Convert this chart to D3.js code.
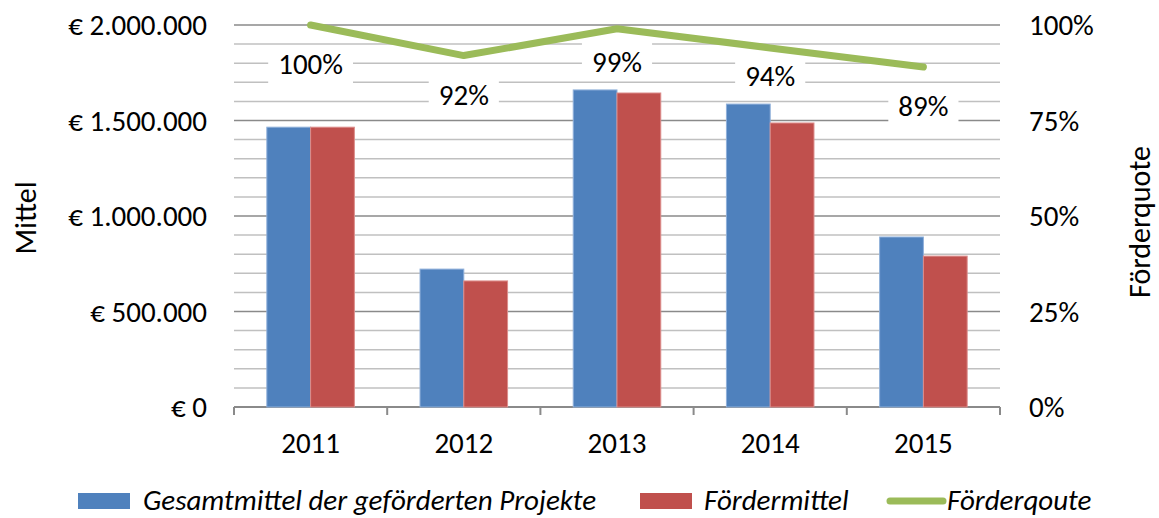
<!DOCTYPE html>
<html>
<head>
<meta charset="utf-8">
<script src="https://cdn.jsdelivr.net/npm/d3@7"></script>
<style>
  body { margin: 0; background: #fff; }
  svg text { font-family: Carlito, "Open Sans", sans-serif; fill: #000; }
</style>
</head>
<body>
<div id="chart"></div>
<script>
// data
var years = ["2011", "2012", "2013", "2014", "2015"];
var gesamtmittel = [1465000, 722000, 1660000, 1586000, 890000];
var foerdermittel = [1465000, 660000, 1644000, 1487000, 790000];
var foerderquote = [1.00, 0.92, 0.99, 0.94, 0.89];
var leftTicks = [0, 500000, 1000000, 1500000, 2000000];
var rightTicks = [0, 0.25, 0.5, 0.75, 1];
var seriesNames = ["Gesamtmittel der geförderten Projekte", "Fördermittel", "Förderqoute"];

var w = 1159, h = 518;
var mLeft = 234, mRight = 1000, mTop = 25, mBottom = 407;
var blue = "#4F81BD", red = "#C0504D", green = "#9BBB59";
var fs = "29px";

var svg = d3.select("#chart")
    .append("svg")
    .attr("width", w)
    .attr("height", h);

var x = d3.scaleBand().domain(years).range([mLeft, mRight]);
var barW = x.bandwidth() / 3.5;
var y = d3.scaleLinear().domain([0, 2000000]).range([mBottom, mTop]);
var yPct = d3.scaleLinear().domain([0, 1]).range([mBottom, mTop]);

// gridlines (minor every 100.000, major every 500.000)
var grid = d3.range(100000, 2000001, 100000);
svg.selectAll("line.grid")
    .data(grid)
    .enter()
    .append("line")
    .attr("class", "grid")
    .attr("x1", mLeft)
    .attr("x2", mRight)
    .attr("y1", function(d) { return y(d); })
    .attr("y2", function(d) { return y(d); })
    .attr("stroke", function(d) { return d % 500000 === 0 ? "#8a8a8a" : "#c0c0c0"; })
    .attr("stroke-width", 1.5);

// x axis
svg.append("line")
    .attr("x1", mLeft).attr("x2", mRight)
    .attr("y1", mBottom).attr("y2", mBottom)
    .attr("stroke", "#8a8a8a").attr("stroke-width", 2);

var bounds = years.map(function(d) { return x(d); }).concat([mRight]);
svg.selectAll("line.xtick")
    .data(bounds)
    .enter()
    .append("line")
    .attr("class", "xtick")
    .attr("x1", function(d) { return d; })
    .attr("x2", function(d) { return d; })
    .attr("y1", mBottom)
    .attr("y2", mBottom + 8)
    .attr("stroke", "#8a8a8a").attr("stroke-width", 2);

svg.selectAll("text.xlab")
    .data(years)
    .enter()
    .append("text")
    .attr("class", "xlab")
    .attr("x", function(d) { return x(d) + x.bandwidth() / 2; })
    .attr("y", 453)
    .attr("text-anchor", "middle")
    .attr("font-size", fs)
    .text(function(d) { return d; });

// left axis labels
var euro = function(d) {
    return "€ " + d3.format(",")(d).replace(/,/g, ".");
};
svg.selectAll("text.ylab")
    .data(leftTicks)
    .enter()
    .append("text")
    .attr("class", "ylab")
    .attr("x", 207)
    .attr("y", function(d) { return y(d); })
    .attr("dy", "0.35em")
    .attr("text-anchor", "end")
    .attr("font-size", fs)
    .text(euro);

// right axis labels
svg.selectAll("text.rlab")
    .data(rightTicks)
    .enter()
    .append("text")
    .attr("class", "rlab")
    .attr("x", 1029)
    .attr("y", function(d) { return yPct(d); })
    .attr("dy", "0.35em")
    .attr("font-size", fs)
    .text(function(d) { return Math.round(d * 100) + "%"; });

// axis titles
svg.append("text")
    .attr("transform", "translate(36,218) rotate(-90)")
    .attr("text-anchor", "middle")
    .attr("font-size", "30px")
    .text("Mittel");

svg.append("text")
    .attr("transform", "translate(1150,222) rotate(-90)")
    .attr("text-anchor", "middle")
    .attr("font-size", "30px")
    .text("Förderquote");

// bars
var center = function(i) { return x(years[i]) + x.bandwidth() / 2; };

svg.selectAll("rect.ges")
    .data(gesamtmittel)
    .enter()
    .append("rect")
    .attr("class", "ges")
    .attr("x", function(d, i) { return center(i) - barW; })
    .attr("y", function(d) { return y(d); })
    .attr("width", barW)
    .attr("height", function(d) { return mBottom - y(d); })
    .attr("fill", blue)
    .attr("stroke", "#8fb0da")
    .attr("stroke-width", 1);

svg.selectAll("rect.foe")
    .data(foerdermittel)
    .enter()
    .append("rect")
    .attr("class", "foe")
    .attr("x", function(d, i) { return center(i); })
    .attr("y", function(d) { return y(d); })
    .attr("width", barW)
    .attr("height", function(d) { return mBottom - y(d); })
    .attr("fill", red)
    .attr("stroke", "#dc8d8b")
    .attr("stroke-width", 1);

// line
var line = d3.line()
    .x(function(d, i) { return center(i); })
    .y(function(d) { return yPct(d); });

svg.append("path")
    .datum(foerderquote)
    .attr("d", line)
    .attr("fill", "none")
    .attr("stroke", green)
    .attr("stroke-width", 7)
    .attr("stroke-linecap", "round")
    .attr("stroke-linejoin", "round");

// data labels below the points, kept clear of the bars
var labels = svg.selectAll("g.lab")
    .data(foerderquote)
    .enter()
    .append("g")
    .attr("class", "lab")
    .attr("transform", function(d, i) {
        var barTop = y(Math.max(gesamtmittel[i], foerdermittel[i]));
        var ly = Math.min(yPct(d) + 39, barTop - 28);
        return "translate(" + center(i) + "," + ly + ")";
    });

labels.append("rect")
    .attr("fill", "#fff");

labels.append("text")
    .attr("text-anchor", "middle")
    .attr("dy", "0.35em")
    .attr("font-size", fs)
    .text(function(d) { return Math.round(d * 100) + "%"; });

labels.each(function() {
    var g = d3.select(this);
    var tw = g.select("text").node().getComputedTextLength();
    g.select("rect")
        .attr("x", -tw / 2 - 10)
        .attr("y", -19)
        .attr("width", tw + 20)
        .attr("height", 38);
});

// legend
var legY = 500;
svg.append("rect")
    .attr("x", 78).attr("y", legY - 7)
    .attr("width", 52).attr("height", 16)
    .attr("fill", blue);
svg.append("rect")
    .attr("x", 640).attr("y", legY - 7)
    .attr("width", 52).attr("height", 16)
    .attr("fill", red);
svg.append("line")
    .attr("x1", 890).attr("x2", 943)
    .attr("y1", legY + 1).attr("y2", legY + 1)
    .attr("stroke", green)
    .attr("stroke-width", 7)
    .attr("stroke-linecap", "round");

var legX = [143, 704, 947];
svg.selectAll("text.leg")
    .data(seriesNames)
    .enter()
    .append("text")
    .attr("class", "leg")
    .attr("x", function(d, i) { return legX[i]; })
    .attr("y", legY)
    .attr("dy", "0.33em")
    .attr("font-size", fs)
    .attr("font-style", "italic")
    .text(function(d) { return d; });
</script>
</body>
</html>
